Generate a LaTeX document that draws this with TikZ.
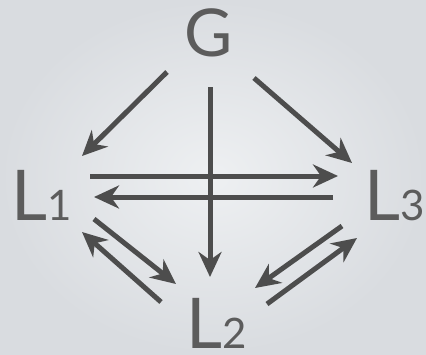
\documentclass[tikz,border=0pt]{standalone}
\usepackage{fontspec}
\setmainfont{Lato}
\usetikzlibrary{arrows.meta}
\definecolor{bgin}{HTML}{EEF0F2}
\definecolor{bgout}{HTML}{D9DCE0}
\definecolor{ink}{HTML}{4D4D4D}
\definecolor{txt}{HTML}{5C5C5C}
\tikzset{
  lvl/.style={inner sep=0pt, anchor=base, text=txt, font=\fontsize{70}{70}\selectfont},
  flow/.style={draw=ink, line width=5pt, -{Stealth[length=25pt,width=23pt,inset=8pt]}},
}
\newcommand{\lsub}[1]{{\fontsize{42}{42}\selectfont #1}}
\begin{document}
\begin{tikzpicture}[x=1pt,y=-1pt]
  % background
  \shade[inner color=bgin, outer color=bgout] (0,0) rectangle (426,354);
  \useasboundingbox (0,0) rectangle (426,354);
  % levels
  \node[lvl, font=\fontsize{66}{66}\selectfont] (G) at (209,56) {G};
  \node[lvl] (L1) at (42,220) {L\lsub{1}};
  \node[lvl] (L3) at (394.5,220) {L\lsub{3}};
  \node[lvl] (L2) at (217,348) {L\lsub{2}};
  % from G
  \draw[flow] ([shift={(-42,16)}]G.base) -- ([shift={(40,-64)}]L1.base);
  \draw[flow] ([shift={(1,31)}]G.base) -- ([shift={(-7,-71)}]L2.base);
  \draw[flow] ([shift={(45,22)}]G.base) -- ([shift={(-42.5,-57)}]L3.base);
  % L1 <-> L3
  \draw[flow] ([shift={(48,-44)}]L1.base) -- ([shift={(-56.5,-44)}]L3.base);
  \draw[flow] ([shift={(-61.5,-23)}]L3.base) -- ([shift={(52,-23)}]L1.base);
  % L1 <-> L2
  \draw[flow] ([shift={(52,-1)}]L1.base) -- ([shift={(-41,-64)}]L2.base);
  \draw[flow] ([shift={(-56,-46)}]L2.base) -- ([shift={(40,12)}]L1.base);
  % L3 <-> L2
  \draw[flow] ([shift={(-52.5,6)}]L3.base) -- ([shift={(38,-60)}]L2.base);
  \draw[flow] ([shift={(50,-44)}]L2.base) -- ([shift={(-37.5,18)}]L3.base);
\end{tikzpicture}
\end{document}
